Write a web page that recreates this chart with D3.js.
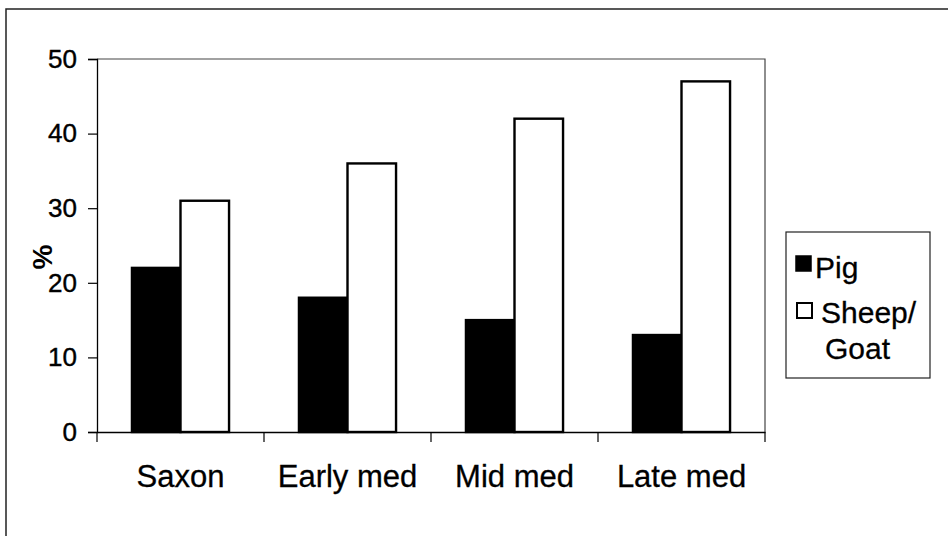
<!DOCTYPE html>
<html><head><meta charset="utf-8">
<script src="https://cdn.jsdelivr.net/npm/d3@7/dist/d3.min.js"></script>
<style>
html,body{margin:0;padding:0;background:#fff;}
svg{display:block;font-family:"Liberation Sans",Arial,sans-serif;}
</style></head>
<body>
<svg id="c" width="948" height="536"></svg>
<script>
const categories = ["Saxon", "Early med", "Mid med", "Late med"];
const seriesNames = ["Pig", "Sheep/Goat"];
const pigValues = [22, 18, 15, 13];
const sheepGoatValues = [31, 36, 42, 47];
const yTicks = [0, 10, 20, 30, 40, 50];
const yLabel = "%";

const svg = d3.select("#c");
const plot = {left: 97, right: 765, top: 59, bottom: 432};
const FONT = "Liberation Sans, Arial, sans-serif";

// outer chart border
svg.append("rect").attr("x", 6).attr("y", 9).attr("width", 1000).attr("height", 600)
  .attr("fill", "none").attr("stroke", "#222").attr("stroke-width", 1.5);

const x = d3.scaleBand().domain(categories).range([plot.left, plot.right]).paddingInner(0).paddingOuter(0);
const xs = d3.scaleBand().domain(seriesNames).range([0, x.bandwidth()]).paddingInner(0).paddingOuter(0.72);
const y = d3.scaleLinear().domain([0, 50]).range([plot.bottom, plot.top]);

// plot area top/right border
svg.append("path")
  .attr("d", `M${plot.left},${plot.top}H${plot.right}V${plot.bottom}`)
  .attr("fill", "none").attr("stroke", "#444").attr("stroke-width", 1.2);

const data = categories.map((c, i) => ({cat: c, vals: [pigValues[i], sheepGoatValues[i]]}));

const g = svg.append("g");
data.forEach(d => {
  d.vals.forEach((v, j) => {
    const name = seriesNames[j];
    g.append("rect")
      .attr("x", x(d.cat) + xs(name))
      .attr("y", y(v))
      .attr("width", xs.bandwidth())
      .attr("height", y(0) - y(v))
      .attr("fill", j === 0 ? "#000" : "#fff")
      .attr("stroke", "#000")
      .attr("stroke-width", 2.4);
  });
});

// y axis
const yAxis = d3.axisLeft(y).tickValues(yTicks).tickSize(9).tickPadding(11);
const ya = svg.append("g").attr("transform", `translate(${plot.left},0)`).call(yAxis);
ya.select(".domain").attr("stroke", "#000").attr("stroke-width", 1.3);
ya.selectAll(".tick line").attr("stroke", "#000").attr("stroke-width", 1.2);
ya.selectAll(".tick text").attr("font-size", 26).attr("fill", "#000")
  .attr("stroke", "#000").attr("stroke-width", 0.4)
  .attr("font-family", FONT);

// x axis
const xAxis = d3.axisBottom(x).tickSize(0).tickPadding(33);
const xa = svg.append("g").attr("transform", `translate(0,${plot.bottom})`).call(xAxis);
xa.select(".domain").attr("stroke", "#000").attr("stroke-width", 1.5);
xa.selectAll(".tick text").attr("font-size", 31).attr("fill", "#000")
  .attr("stroke", "#000").attr("stroke-width", 0.3)
  .attr("font-family", FONT);
// category boundary ticks
const bounds = categories.map(c => x(c)).concat([x(categories[categories.length - 1]) + x.bandwidth()]);
xa.selectAll(".btick").data(bounds).enter().append("line")
  .attr("x1", d => d).attr("x2", d => d).attr("y1", 0).attr("y2", 10)
  .attr("stroke", "#000").attr("stroke-width", 1.2);

// y label
svg.append("text").attr("transform", "translate(52,257) rotate(-90)")
  .attr("text-anchor", "middle").attr("font-size", 28).attr("font-weight", "bold")
  .text(yLabel);

// legend
const lg = svg.append("g");
lg.append("rect").attr("x", 786).attr("y", 232).attr("width", 144).attr("height", 146)
  .attr("fill", "#fff").attr("stroke", "#222").attr("stroke-width", 1.2);
lg.append("rect").attr("x", 796).attr("y", 256).attr("width", 15).attr("height", 15)
  .attr("fill", "#000").attr("stroke", "#000").attr("stroke-width", 1.5);
lg.append("text").attr("x", 815).attr("y", 278).attr("font-size", 30)
  .attr("stroke", "#000").attr("stroke-width", 0.3).text(seriesNames[0]);
lg.append("rect").attr("x", 797).attr("y", 303).attr("width", 15).attr("height", 15)
  .attr("fill", "#fff").attr("stroke", "#000").attr("stroke-width", 2);
const t2 = lg.append("text").attr("font-size", 30).attr("stroke", "#000").attr("stroke-width", 0.3);
t2.append("tspan").attr("x", 821).attr("y", 323).text("Sheep/");
t2.append("tspan").attr("x", 825).attr("y", 359).text("Goat");
</script>
</body></html>
